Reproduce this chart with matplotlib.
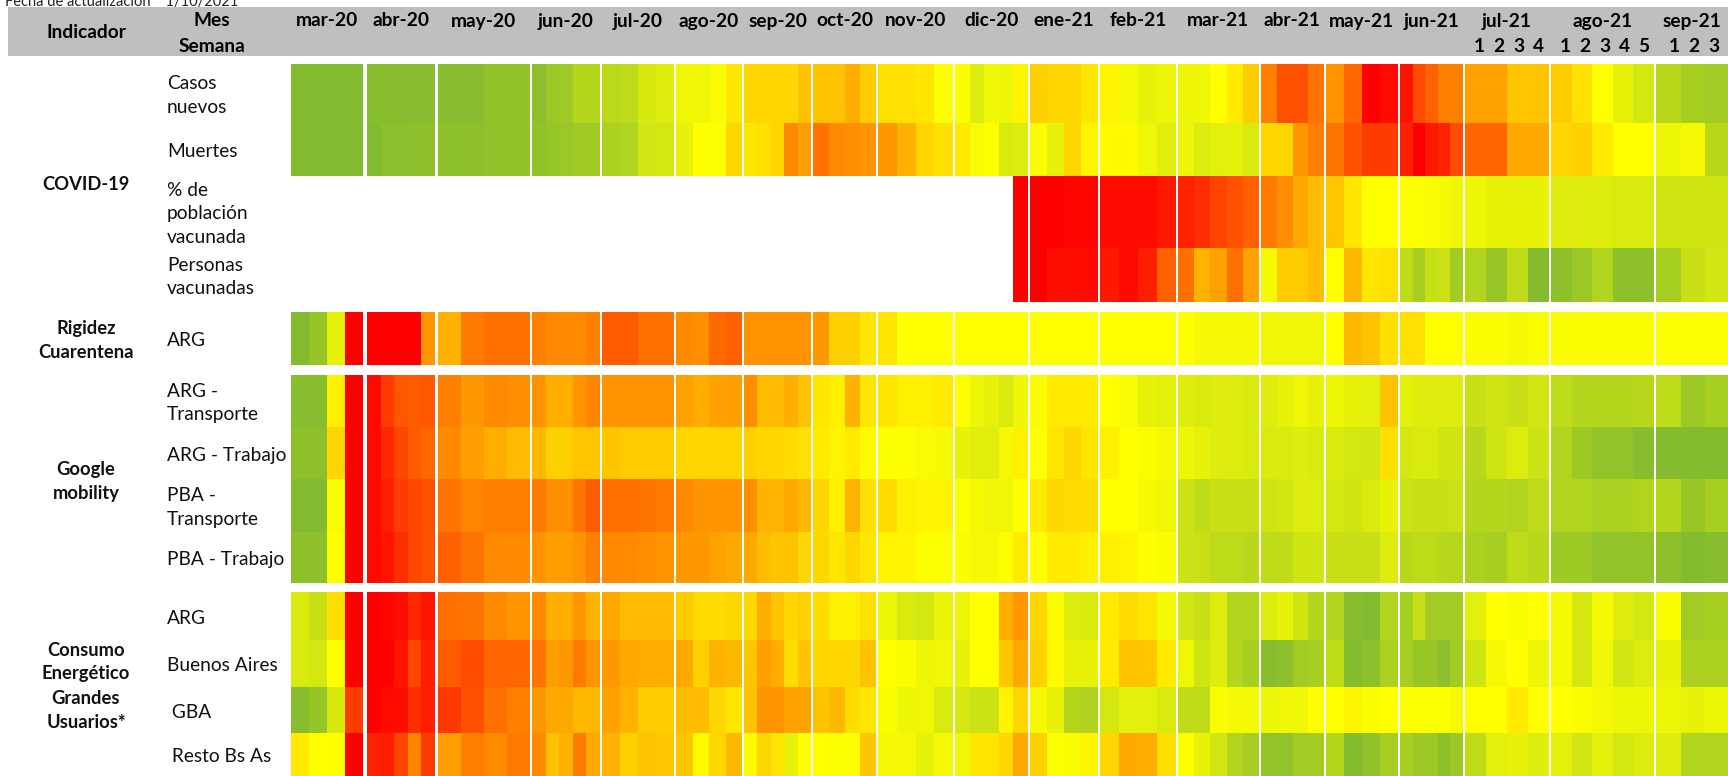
import numpy as np
import matplotlib
matplotlib.use("Agg")
import matplotlib.pyplot as plt
from matplotlib.colors import LinearSegmentedColormap
from matplotlib.patches import Rectangle

plt.rcParams['font.family'] = ['Lato', 'DejaVu Sans']

# ---------------- data ----------------
months = ["mar-20", "abr-20", "may-20", "jun-20", "jul-20", "ago-20", "sep-20",
          "oct-20", "nov-20", "dic-20", "ene-21", "feb-21", "mar-21", "abr-21",
          "may-21", "jun-21", "jul-21", "ago-21", "sep-21"]
weeks_per_month = [4, 5, 4, 5, 4, 4, 5, 4, 4, 5, 4, 4, 5, 4, 4, 5, 4, 5, 3]
week_labels = {"jul-21": ["1", "2", "3", "4"],
               "ago-21": ["1", "2", "3", "4", "5"],
               "sep-21": ["1", "2", "3"]}

nan = np.nan
# scores 0 (red) .. 50 (yellow) .. 100 (green)
casos = [100, 100, 100, 100, 98, 98, 98, 98, 98, 98, 98, 94, 94, 95, 90, 88, 80, 80,
         77, 76, 66, 63, 56, 56, 53, 45, 42, 42, 42, 42, 38, 38, 38, 34, 40, 44, 44, 45, 51,
         52, 64, 56, 57, 48, 41, 42, 42, 45, 48, 54, 59, 57, 57, 56, 50, 46, 40,
         25, 16, 16, 23, 29, 20, 0, 2, 4, 15, 19, 25, 25, 32, 32, 39, 39,
         40, 44, 50, 59, 67, 78, 85, 87]
muertes = [100, 100, 100, 100, 100, 96, 96, 95, 95, 95, 95, 94, 94, 94, 92, 90, 88, 88,
           83, 81, 68, 67, 59, 50, 51, 42, 45, 44, 42, 27, 31, 23, 27, 28, 29, 30, 35, 42, 44,
           46, 53, 51, 65, 64, 52, 59, 42, 48, 49, 49, 56, 62, 57, 64, 61, 61, 65,
           42, 42, 30, 25, 23, 16, 12, 12, 6, 0, 5, 7, 15, 20, 20, 33, 33,
           42, 41, 46, 50, 50, 57, 54, 78]
pct_vacunada = [nan] * 43 + [0, 0, 0, 1, 1, 2, 2, 2, 5, 7, 9, 14, 16, 19,
                             24, 28, 33, 37, 39, 45, 50, 50, 50, 51, 53, 54, 56,
                             57, 59, 59, 59, 63, 63, 64, 65, 65, 69, 69, 69]
personas_vac = [nan] * 43 + [0, 0, 3, 3, 2, 5, 2, 6, 19, 22, 35, 32, 22, 32,
                             54, 40, 40, 37, 50, 36, 45, 44, 76, 85, 73, 71, 87,
                             81, 91, 76, 99, 95, 90, 81, 95, 95, 85, 72, 68]
rigidez = [100, 92, 60, 0, 0, 0, 0, 0, 30, 35, 24, 22, 22, 25, 27, 27, 27, 25,
           18, 18, 22, 22, 27, 28, 21, 19, 29, 29, 29, 29, 29, 30, 41, 41, 45, 45, 50, 50, 50,
           50, 50, 50, 50, 50, 50, 50, 50, 50, 50, 50, 50, 50, 50, 54, 54, 54, 54,
           56, 56, 56, 56, 50, 36, 38, 44, 44, 44, 50, 50, 50, 52, 52, 54, 52,
           52, 52, 52, 52, 52, 51, 51, 51]
g_arg_transporte = [98, 98, 47, 0, 2, 12, 17, 18, 17, 25, 30, 27, 28, 29, 34, 34, 29, 26,
                    29, 29, 29, 29, 32, 34, 32, 31, 28, 37, 37, 34, 38, 45, 47, 35, 45, 45, 47, 47, 46,
                    51, 57, 59, 65, 57, 52, 46, 46, 46, 50, 53, 59, 61, 63, 65, 63, 64, 65,
                    63, 59, 56, 59, 57, 59, 61, 38, 61, 63, 63, 63, 63, 72, 69, 72, 68,
                    76, 80, 80, 80, 78, 76, 89, 85]
g_arg_trabajo = [95, 95, 42, 0, 2, 8, 14, 18, 20, 27, 31, 34, 37, 36, 41, 41, 39, 39,
                 39, 40, 40, 40, 42, 42, 42, 42, 41, 42, 42, 43, 44, 46, 48, 46, 49, 51, 51, 53, 54,
                 59, 62, 62, 54, 47, 50, 45, 42, 45, 47, 50, 52, 54, 57, 59, 63, 64, 65,
                 65, 65, 63, 65, 65, 67, 68, 44, 67, 65, 65, 69, 69, 78, 69, 64, 71,
                 81, 89, 93, 93, 98, 99, 99, 99]
g_pba_transporte = [100, 100, 53, 0, 2, 6, 12, 14, 16, 23, 26, 25, 25, 24, 28, 28, 23, 18,
                    22, 22, 23, 24, 27, 29, 29, 29, 28, 35, 35, 33, 36, 42, 47, 35, 44, 43, 47, 48, 48,
                    51, 54, 56, 56, 50, 46, 42, 43, 43, 50, 50, 54, 56, 71, 75, 72, 72, 72,
                    69, 68, 63, 64, 67, 69, 65, 59, 71, 72, 72, 72, 71, 80, 80, 81, 76,
                    81, 81, 83, 83, 81, 80, 91, 85]
g_pba_trabajo = [95, 95, 50, 0, 2, 4, 9, 14, 16, 19, 23, 27, 27, 29, 31, 31, 29, 25,
                 27, 27, 28, 29, 30, 30, 32, 33, 33, 37, 39, 38, 42, 42, 45, 42, 45, 48, 48, 51, 51,
                 52, 54, 54, 51, 46, 50, 46, 46, 47, 47, 48, 51, 52, 71, 72, 76, 76, 78,
                 75, 75, 69, 69, 72, 72, 72, 64, 78, 76, 76, 78, 80, 83, 85, 76, 78,
                 89, 89, 93, 93, 93, 95, 99, 98]
e_arg = [65, 72, 44, 0, 0, 1, 3, 8, 4, 22, 23, 27, 29, 27, 34, 34, 30, 35,
         33, 37, 37, 37, 40, 43, 43, 42, 42, 34, 39, 42, 41, 43, 47, 47, 44, 57, 65, 67, 58,
         57, 50, 50, 34, 30, 42, 52, 63, 65, 46, 43, 45, 54, 68, 72, 64, 81, 81,
         64, 59, 69, 80, 81, 98, 100, 81, 85, 72, 87, 87, 87, 61, 50, 52, 50,
         54, 67, 54, 63, 67, 52, 87, 85]
e_buenos_aires = [65, 67, 50, 0, 0, 0, 4, 14, 6, 18, 15, 20, 20, 23, 31, 30, 24, 29,
                  30, 33, 34, 34, 33, 41, 35, 36, 39, 31, 34, 43, 38, 42, 42, 42, 38, 50, 52, 57, 56,
                  59, 50, 50, 39, 33, 41, 49, 59, 59, 46, 38, 39, 46, 56, 69, 63, 80, 85,
                  98, 95, 87, 85, 76, 99, 95, 83, 85, 91, 91, 96, 87, 69, 54, 50, 57,
                  54, 67, 56, 68, 64, 59, 83, 83]
e_gba = [98, 92, 66, 12, 0, 2, 3, 9, 6, 11, 16, 22, 25, 30, 33, 33, 36, 36,
         32, 35, 40, 40, 37, 37, 42, 45, 38, 29, 29, 32, 32, 38, 36, 43, 45, 52, 57, 56, 65,
         67, 71, 71, 48, 42, 54, 59, 80, 82, 67, 61, 61, 65, 75, 75, 52, 54, 54,
         57, 56, 56, 50, 50, 48, 52, 50, 51, 51, 51, 50, 54, 50, 50, 46, 50,
         50, 52, 54, 57, 57, 57, 59, 57]
e_resto = [46, 51, 50, 0, 7, 6, 14, 26, 12, 31, 25, 27, 24, 27, 38, 35, 24, 33,
           35, 41, 38, 39, 39, 49, 42, 36, 49, 42, 45, 59, 50, 50, 51, 51, 39, 54, 54, 59, 54,
           56, 45, 45, 42, 33, 41, 51, 52, 48, 42, 33, 34, 44, 50, 59, 68, 81, 85,
           93, 93, 87, 87, 80, 99, 94, 85, 85, 89, 89, 95, 89, 75, 61, 59, 63,
           61, 68, 61, 67, 64, 63, 81, 81]

groups = [
    ("COVID-19", ["Casos\nnuevos", "Muertes", "% de\npoblación\nvacunada", "Personas\nvacunadas"],
     [casos, muertes, pct_vacunada, personas_vac]),
    ("Rigidez\nCuarentena", ["ARG"], [rigidez]),
    ("Google\nmobility", ["ARG -\nTransporte", "ARG - Trabajo", "PBA -\nTransporte", "PBA - Trabajo"],
     [g_arg_transporte, g_arg_trabajo, g_pba_transporte, g_pba_trabajo]),
    ("Consumo\nEnergético\nGrandes\nUsuarios*", ["ARG", "Buenos Aires", " GBA", " Resto Bs As"],
     [e_arg, e_buenos_aires, e_gba, e_resto]),
]

# ---------------- layout (pixels) ----------------
W, H = 1728, 776
month_x0 = [291, 367, 438, 532, 602, 676, 744, 813, 878, 955, 1030, 1100, 1178, 1261, 1326, 1400, 1465, 1551, 1656]
month_x1 = [363, 435, 530, 600, 674, 742, 811, 876, 953, 1028, 1098, 1176, 1259, 1324, 1398, 1463, 1549, 1654, 1730]
group_y = [[64, 123, 176, 248, 302], [312, 365], [375, 427, 479, 532, 583], [592, 640, 687, 733, 778]]
FS = 13.8      # regular label size
FSB = 13.2     # bold group label size

cmap = LinearSegmentedColormap.from_list("ryg", ["#FF0000", "#FFFF00", "#82BA30"])

fig = plt.figure(figsize=(W / 100, H / 100), dpi=100)
ax = fig.add_axes([0, 0, 1, 1])
ax.set_xlim(0, W)
ax.set_ylim(H, 0)
ax.axis("off")

# contiguous x edges; the interval between one month's end and the next start is a masked gap
edges = []
for i, n in enumerate(weeks_per_month):
    edges.extend(np.linspace(month_x0[i], month_x1[i], n + 1))
edges = np.array(edges)


def expand(row):
    out = []
    k = 0
    for i, n in enumerate(weeks_per_month):
        out.extend(row[k:k + n])
        k += n
        if i < len(weeks_per_month) - 1:
            out.append(nan)
    return np.array(out, dtype=float)


for (gname, sublabels, rows), ye in zip(groups, group_y):
    C = np.vstack([expand(r) for r in rows]) / 100.0
    C = np.ma.masked_invalid(C)
    ax.pcolormesh(edges, np.array(ye), C, cmap=cmap, vmin=0, vmax=1,
                  shading="flat", edgecolors="none", antialiased=False)
    for lab, y0, y1 in zip(sublabels, ye[:-1], ye[1:]):
        ax.text(167, (min(y1, 776) + y0) / 2 + 2, lab, ha="left", va="center",
                fontsize=FS, linespacing=1.45, color="#111111")
    ax.text(86, (ye[0] + min(ye[-1], 776)) / 2 + 2, gname, ha="center", va="center",
            fontsize=FSB, fontweight="bold", linespacing=1.5, color="#111111")

# header
ax.add_patch(Rectangle((8, 7), W - 8, 49, facecolor="#BFBFBF", edgecolor="none"))
ax.text(5, 2, "Fecha de actualización    1/10/2021", ha="left", va="center",
        fontsize=10.5, color="#222222")
ax.text(86, 32, "Indicador", ha="center", va="center", fontsize=FS, fontweight="bold")
ax.text(212, 21, "Mes", ha="center", va="center", fontsize=FS, fontweight="bold")
ax.text(212, 46, "Semana", ha="center", va="center", fontsize=FS, fontweight="bold")
for i, m in enumerate(months):
    xc = (month_x0[i] + min(month_x1[i], 1728)) / 2
    ax.text(xc, 21, m, ha="center", va="center", fontsize=FS, fontweight="bold")
    if m in week_labels:
        labs = week_labels[m]
        n = len(labs)
        span = 19.5
        start = xc - span * (n - 1) / 2 + 2
        for j, wl in enumerate(labs):
            ax.text(start + j * span, 47, wl, ha="center", va="center",
                    fontsize=FS, fontweight="bold")

fig.savefig("out.png", dpi=100)
